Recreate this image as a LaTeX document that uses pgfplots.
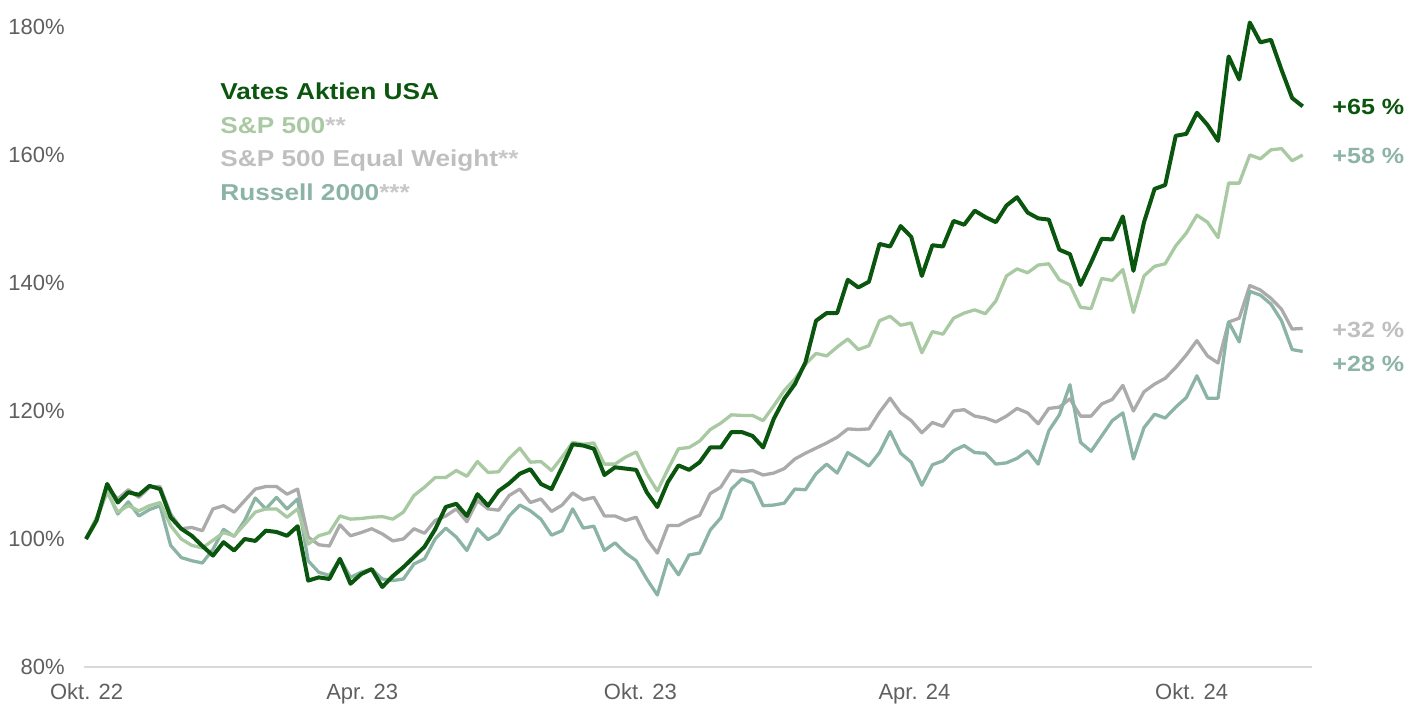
\documentclass[border=0pt]{standalone}
\usepackage{pgfplots}
\pgfplotsset{compat=1.18}
\usepackage{pgfplotstable}
\usepackage{fontspec}
\setmainfont{Liberation Sans}
\newfontfamily\legfont{Liberation Sans}[FakeStretch=1.14]
\definecolor{vates}{HTML}{0B560E}
\definecolor{spc}{HTML}{A8C9A2}
\definecolor{ewc}{HTML}{ABABAB}
\definecolor{ewtext}{HTML}{BFBFBF}
\definecolor{rusc}{HTML}{8CB4A5}
\definecolor{tickgray}{HTML}{5F5F5F}
\definecolor{baseline}{HTML}{D9D9D9}
\definecolor{astc}{HTML}{C8C8C8}

\pgfplotstableread{
w v
0 100
1 102.9
2 108.6
3 105.7
4 107.3
5 106.9
6 108.3
7 107.8
8 103.4
9 101.6
10 100.5
11 98.9
12 97.4
13 99.5
14 98.2
15 100.0
16 99.7
17 101.3
18 101.1
19 100.5
20 102.0
21 93.5
22 94.0
23 93.75
24 96.9
25 93.0
26 94.5
27 95.3
28 92.5
29 94.2
30 95.6
31 97.2
32 98.8
33 101.5
34 105.0
35 105.5
36 103.6
37 107.0
38 105.2
39 107.5
40 108.7
41 110.2
42 110.9
43 108.6
44 107.8
45 111.2
46 114.8
47 114.6
48 114.1
49 110.0
50 111.2
51 111.0
52 110.8
53 107.3
54 105.0
55 108.9
56 111.5
57 110.8
58 112.0
59 114.3
60 114.3
61 116.7
62 116.7
63 116.1
64 114.3
65 118.75
66 121.9
67 124.2
68 127.6
69 134.1
70 135.3
71 135.3
72 140.5
73 139.3
74 140.2
75 146.1
76 145.7
77 148.9
78 147.2
79 141.1
80 145.9
81 145.7
82 149.7
83 149.1
84 151.3
85 150.3
86 149.5
87 152.1
88 153.4
89 151.0
90 150.1
91 149.9
92 145.2
93 144.5
94 139.7
95 143.2
96 146.9
97 146.8
98 150.4
99 141.9
100 149.5
101 154.7
102 155.3
103 163.0
104 163.3
105 166.6
106 164.7
107 162.2
108 175.4
109 171.8
110 180.7
111 177.6
112 178.0
113 173.3
114 168.9
115 167.6
}\vates

\pgfplotstableread{
w v
0 100
1 103.4
2 107.3
3 104.2
4 105.2
5 104.4
6 105.2
7 105.7
8 102.1
9 100.0
10 99.0
11 98.6
12 99.8
13 101.0
14 100.5
15 102.3
16 104.2
17 104.7
18 104.7
19 103.4
20 104.7
21 99.2
22 100.5
23 101.0
24 103.6
25 103.1
26 103.2
27 103.4
28 103.5
29 103.1
30 104.2
31 106.8
32 108.1
33 109.6
34 109.6
35 110.7
36 109.8
37 112.1
38 110.4
39 110.5
40 112.6
41 114.2
42 112.0
43 112.1
44 110.7
45 112.8
46 115.1
47 114.8
48 115.0
49 111.7
50 111.7
51 112.8
52 113.6
53 110.2
54 107.5
55 110.9
56 114.1
57 114.3
58 115.3
59 117.1
60 118.1
61 119.4
62 119.3
63 119.3
64 118.5
65 120.8
66 123.2
67 125.0
68 127.3
69 129.0
70 128.6
71 130.0
72 131.25
73 129.6
74 130.2
75 134.1
76 134.8
77 133.4
78 133.75
79 129.1
80 132.4
81 132.0
82 134.5
83 135.3
84 135.8
85 135.2
86 137.2
87 141.1
88 142.2
89 141.6
90 142.8
91 143.0
92 140.5
93 139.7
94 136.2
95 136.0
96 140.7
97 140.4
98 142.1
99 135.4
100 141.1
101 142.6
102 143.0
103 145.8
104 147.8
105 150.6
106 149.5
107 147.1
108 155.6
109 155.6
110 160.0
111 159.4
112 160.8
113 161.0
114 159.1
115 160.0
}\spx

\pgfplotstableread{
w v
0 100
1 103.1
2 108.1
3 106.25
4 107.7
5 106.5
6 108.1
7 108.2
8 103.9
9 101.6
10 101.8
11 101.3
12 104.7
13 105.2
14 104.2
15 106.0
16 107.8
17 108.2
18 108.2
19 107.0
20 107.8
21 100.3
22 99.1
23 98.9
24 102.2
25 100.5
26 101.0
27 101.6
28 100.8
29 99.7
30 100.0
31 101.6
32 100.9
33 102.9
34 103.6
35 104.7
36 102.7
37 106.0
38 104.7
39 104.5
40 106.8
41 107.8
42 105.7
43 106.25
44 104.3
45 105.3
46 107.2
47 106.1
48 106.5
49 103.6
50 103.6
51 102.9
52 103.4
53 100.0
54 97.8
55 102.1
56 102.1
57 103.0
58 103.7
59 107.1
60 108.1
61 110.7
62 110.5
63 110.7
64 110.0
65 110.3
66 111.0
67 112.5
68 113.4
69 114.2
70 115.0
71 115.9
72 117.2
73 117.1
74 117.2
75 119.8
76 122.0
77 119.7
78 118.5
79 116.6
80 118.2
81 117.6
82 120.0
83 120.2
84 119.2
85 118.9
86 118.3
87 119.2
88 120.4
89 119.7
90 118.0
91 120.4
92 120.6
93 121.9
94 119.2
95 119.2
96 121.1
97 121.8
98 124.0
99 120.0
100 123.0
101 124.2
102 125.1
103 126.8
104 128.75
105 131.0
106 128.6
107 127.5
108 133.9
109 134.5
110 139.6
111 138.9
112 137.6
113 135.9
114 132.8
115 132.9
}\ewx

\pgfplotstableread{
w v
0 100
1 103.0
2 107.5
3 103.9
4 105.8
5 103.6
6 104.6
7 105.2
8 99.0
9 97.1
10 96.6
11 96.25
12 98.4
13 101.5
14 100.4
15 102.9
16 106.4
17 104.7
18 106.5
19 104.7
20 106.25
21 96.6
22 94.8
23 94.3
24 96.9
25 94.0
26 94.8
27 95.3
28 93.75
29 93.5
30 93.75
31 96.1
32 96.9
33 100.0
34 101.7
35 100.3
36 98.2
37 101.6
38 99.9
39 100.9
40 103.6
41 105.3
42 104.4
43 103.1
44 100.6
45 101.3
46 104.7
47 101.7
48 102.0
49 98.2
50 99.4
51 97.8
52 96.6
53 93.75
54 91.25
55 96.8
56 94.4
57 97.5
58 97.8
59 101.4
60 103.3
61 107.8
62 109.4
63 108.75
64 105.2
65 105.3
66 105.6
67 107.8
68 107.7
69 110.2
70 111.7
71 110.3
72 113.5
73 112.5
74 111.4
75 113.5
76 116.8
77 113.4
78 112.0
79 108.4
80 111.6
81 112.2
82 113.8
83 114.6
84 113.5
85 113.4
86 111.7
87 111.9
88 112.6
89 113.8
90 111.7
91 116.9
92 119.4
93 124.1
94 115.1
95 113.7
96 116.1
97 118.5
98 119.7
99 112.5
100 117.4
101 119.5
102 118.9
103 120.6
104 122.1
105 125.5
106 122.0
107 122.0
108 133.9
109 130.8
110 138.7
111 138.1
112 136.7
113 134.1
114 129.6
115 129.3
}\rus

\begin{document}
\begin{tikzpicture}
\useasboundingbox (0,0) rectangle (711.5pt,352pt);
\begin{axis}[
  at={(42pt,18.5pt)}, anchor=south west,
  scale only axis, width=614pt, height=320pt,
  xmin=-0.19, xmax=115.88, ymin=80, ymax=180,
  axis x line=bottom, axis y line=left,
  x axis line style={draw=baseline, line width=1pt, -},
  y axis line style={draw=none},
  major tick length=0pt,
  xtick={0.05,26.1,52.4,78.3,104.5},
  xticklabels={Okt. 22,Apr. 23,Okt. 23,Apr. 24,Okt. 24},
  ytick={80,100,120,140,160,180},
  yticklabels={80\%,100\%,120\%,140\%,160\%,180\%},
  tick label style={font=\fontsize{11}{13}\selectfont, text=tickgray},
  xticklabel style={anchor=base, yshift=-16.5pt, inner sep=0pt},
  yticklabel style={anchor=east, xshift=-9.5pt, inner sep=0pt},
  clip=false,
  every axis plot/.append style={line join=round, no markers},
]
\addplot[ewc, line width=1.65pt] table[x=w,y=v] {\ewx};
\addplot[rusc, line width=1.65pt] table[x=w,y=v] {\rus};
\addplot[spc, line width=1.65pt] table[x=w,y=v] {\spx};
\addplot[vates, line width=2pt] table[x=w,y=v] {\vates};
\end{axis}
\begin{scope}[every node/.style={anchor=base west, inner sep=0pt}]
\node[font=\legfont\bfseries\fontsize{11.5}{13}\selectfont, text=vates] at (110pt,302.35pt) {Vates Aktien USA};
\node[font=\legfont\bfseries\fontsize{11.5}{13}\selectfont, text=spc] at (110pt,285.35pt) {S\&P 500\textcolor{astc}{**}};
\node[font=\legfont\bfseries\fontsize{11.5}{13}\selectfont, text=ewtext] at (110pt,268.85pt) {S\&P 500 Equal Weight\textcolor{astc}{**}};
\node[font=\legfont\bfseries\fontsize{11.5}{13}\selectfont, text=rusc] at (110pt,251.85pt) {Russell 2000\textcolor{astc}{***}};
\node[font=\legfont\bfseries\fontsize{11}{13}\selectfont, text=vates] at (666pt,294.6pt) {+65 \%};
\node[font=\legfont\bfseries\fontsize{11}{13}\selectfont, text=rusc] at (666pt,270.1pt) {+58 \%};
\node[font=\legfont\bfseries\fontsize{11}{13}\selectfont, text=ewtext] at (666pt,183.1pt) {+32 \%};
\node[font=\legfont\bfseries\fontsize{11}{13}\selectfont, text=rusc] at (666pt,166.1pt) {+28 \%};
\end{scope}
\end{tikzpicture}
\end{document}
